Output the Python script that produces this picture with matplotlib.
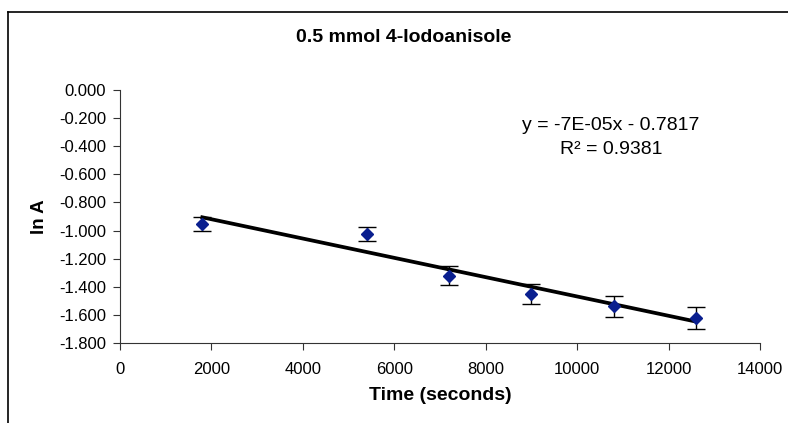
import numpy as np
import matplotlib
matplotlib.use("Agg")
import matplotlib.pyplot as plt
from matplotlib.lines import Line2D

plt.rcParams['font.family'] = ['Liberation Sans', 'DejaVu Sans']

# Measurements: time (s), ln A and error bar half-widths
time_s = [1800, 5400, 7200, 9000, 10800, 12600]
ln_a = [-0.950, -1.025, -1.320, -1.450, -1.540, -1.622]
ln_a_err = [0.050, 0.050, 0.065, 0.070, 0.075, 0.080]

x_ticks = [0, 2000, 4000, 6000, 8000, 10000, 12000, 14000]
y_ticks = [0.0, -0.2, -0.4, -0.6, -0.8, -1.0, -1.2, -1.4, -1.6, -1.8]

title = "0.5 mmol 4-Iodoanisole"
equation = "y = -7E-05x - 0.7817"
r_squared = "R² = 0.9381"

fig = plt.figure(figsize=(7.88, 4.23), dpi=100)
ax = fig.add_axes([0.1523, 0.1891, 0.8122, 0.5981])

# Linear trendline fitted to the data
slope, intercept = np.polyfit(time_s, ln_a, 1)
xs = np.array([time_s[0], time_s[-1]])
ax.plot(xs, slope * xs + intercept, color='black', lw=2.7, zorder=2)

ax.errorbar(time_s, ln_a, yerr=ln_a_err, fmt='D', color='#0a1f8f',
            markersize=6, ecolor='black', elinewidth=1.0, capsize=6.5,
            capthick=1.0, zorder=3)

ax.set_xlim(0, 14000)
ax.set_ylim(-1.8, 0.0)
ax.set_xticks(x_ticks)
ax.set_yticks(y_ticks)
ax.set_xticklabels([str(v) for v in x_ticks])
ax.set_yticklabels([f"{v:.3f}" for v in y_ticks])
ax.tick_params(axis='both', labelsize=12, length=5, width=0.8,
               color='#333333', direction='out')
ax.tick_params(axis='x', pad=9)
ax.tick_params(axis='y', pad=5)
for side in ('top', 'right'):
    ax.spines[side].set_visible(False)
for side in ('left', 'bottom'):
    ax.spines[side].set_color('#333333')
    ax.spines[side].set_linewidth(0.8)

ax.set_xlabel("Time (seconds)", fontsize=14, fontweight='bold', labelpad=7)
ax.set_ylabel("ln A", fontsize=13.5, fontweight='bold', labelpad=8)

fig.text(404 / 788, 1 - 37 / 423, title, ha='center', va='center',
         fontsize=14, fontweight='bold')
ax.text(0.767, 0.858, equation, transform=ax.transAxes, ha='center',
        va='center', fontsize=14)
ax.text(0.767, 0.763, r_squared, transform=ax.transAxes, ha='center',
        va='center', fontsize=14)

# Chart frame (left and top edges)
fig.add_artist(Line2D([8 / 788, 8 / 788], [0, 1 - 12 / 423],
                      transform=fig.transFigure, color='black', lw=1.2))
fig.add_artist(Line2D([8 / 788, 1], [1 - 12 / 423, 1 - 12 / 423],
                      transform=fig.transFigure, color='black', lw=1.2))

fig.savefig("out.png", dpi=100)
